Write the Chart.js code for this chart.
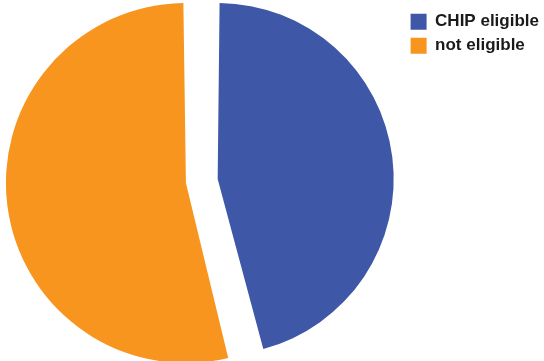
<!DOCTYPE html>
<html>
<head>
<meta charset="utf-8">
<script src="https://cdn.jsdelivr.net/npm/chart.js@4/dist/chart.umd.min.js"></script>
<style>
  html, body { margin: 0; padding: 0; background: #ffffff; }
  #wrap { width: 544px; height: 361px; position: relative; }
</style>
</head>
<body>
<div id="wrap"><canvas id="eligibilityPie"></canvas></div>
<script>
// Share of children by CHIP eligibility
const categories = ['CHIP eligible', 'not eligible'];
const shares = [46, 54];
const sliceColors = ['#3F57A7', '#F7951F'];

const ctx = document.getElementById('eligibilityPie').getContext('2d');
const eligibilityChart = new Chart(ctx, {
    type: 'pie',
    data: {
        labels: categories,
        datasets: [{
            data: shares,
            backgroundColor: sliceColors,
            borderWidth: 0,
            offset: 64,     // arcs shift by offset / 4 px (and grow a bit)
            radius: 164
        }]
    },
    options: {
        responsive: true,
        maintainAspectRatio: false,
        animation: false,
        layout: {
            padding: { top: 1, bottom: 0, left: -8, right: -5 }
        },
        plugins: {
            tooltip: { enabled: false },
            legend: {
                position: 'right',
                align: 'start',
                title: {
                    // empty title just pushes the entries down a little
                    display: true,
                    text: '',
                    font: { size: 1 },
                    padding: { top: 4, bottom: 0 }
                },
                labels: {
                    boxWidth: 16,
                    boxHeight: 16,
                    padding: 7,
                    color: '#1a1a1a',
                    font: { family: 'Liberation Sans, Arial, sans-serif', size: 17, weight: 'bold' }
                }
            }
        }
    }
});
</script>
</body>
</html>
